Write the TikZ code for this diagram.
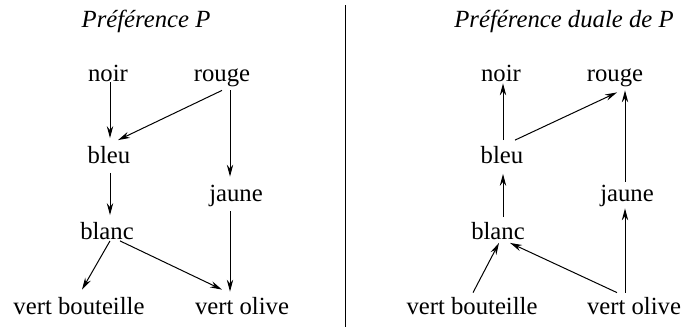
\documentclass[tikz,border=0pt]{standalone}
\usepackage{fontspec}
\setmainfont{Liberation Serif}
\usetikzlibrary{arrows.meta}

\begin{document}
\begin{tikzpicture}[x=0.5pt,y=-0.5pt,
        mot/.style={font=\fontsize{12.35pt}{14pt}\selectfont, inner sep=0pt,
            text height=8.5pt, text depth=2.5pt, anchor=base},
        titre/.style={mot, font=\fontsize{12.35pt}{14pt}\selectfont\itshape},
        fleche/.style={-{Stealth[length=6pt,width=3.2pt,inset=2pt]}, line width=0.5pt}]
        \useasboundingbox (0,0) rectangle (683,327);

        % preference P
        \node[titre] (titreP) at (146,27.5) {Préférence P};
        \node[mot] (noirP)   at (108,81.7) {noir};
        \node[mot] (rougeP)  at (222,81.7) {rouge};
        \node[mot] (bleuP)   at (109,163.5) {bleu};
        \node[mot] (jauneP)  at (236,201.7) {jaune};
        \node[mot] (blancP)  at (107,239.5) {blanc};
        \node[mot] (vbP)     at (79,314)   {vert bouteille};
        \node[mot] (voP)     at (242,314)  {vert olive};

        \draw[fleche] ([shift={(2,-4.7)}]noirP.south) -- ([shift={(1,-8)}]bleuP.north);
        \draw[fleche] ([shift={(0,3.3)}]rougeP.south) -- ([shift={(9,-6)}]bleuP.north);
        \draw[fleche] ([shift={(8,3.3)}]rougeP.south) -- ([shift={(-6,-7.7)}]jauneP.north);
        \draw[fleche] ([shift={(1,4)}]bleuP.south) -- ([shift={(3,-7)}]blancP.north);
        \draw[fleche] ([shift={(3,-4)}]blancP.south) -- ([shift={(3,-7)}]vbP.north);
        \draw[fleche] ([shift={(13,-4)}]blancP.south) -- ([shift={(-20,-7)}]voP.north);
        \draw[fleche] ([shift={(-6,4)}]jauneP.south) -- ([shift={(-12,-5)}]voP.north);

        % separation
        \draw[line width=0.5pt] (345,5) -- (345,327);

        % preference duale
        \node[titre] (titreD) at (564,27.3) {Préférence duale de P};
        \node[mot] (noirD)   at (501,81.7) {noir};
        \node[mot] (rougeD)  at (615,81.7) {rouge};
        \node[mot] (bleuD)   at (502,163.5) {bleu};
        \node[mot] (jauneD)  at (627,201.7) {jaune};
        \node[mot] (blancD)  at (498,239.5) {blanc};
        \node[mot] (vbD)     at (472,314)  {vert bouteille};
        \node[mot] (voD)     at (634,314)  {vert olive};

        \draw[fleche] ([shift={(1,-6)}]bleuD.north) -- ([shift={(2,-3.7)}]noirD.south);
        \draw[fleche] ([shift={(13,-6)}]bleuD.north) -- ([shift={(2,5.3)}]rougeD.south);
        \draw[fleche] ([shift={(-2,-2.7)}]jauneD.north) -- ([shift={(10,3.3)}]rougeD.south);
        \draw[fleche] ([shift={(5,-5)}]blancD.north) -- ([shift={(1,5)}]bleuD.south);
        \draw[fleche] ([shift={(1,-4)}]vbD.north) -- ([shift={(1,-2)}]blancD.south);
        \draw[fleche] ([shift={(-17,-4)}]voD.north) -- ([shift={(12,-2)}]blancD.south);
        \draw[fleche] ([shift={(-9,-4)}]voD.north) -- ([shift={(-2,1.3)}]jauneD.south);
    \end{tikzpicture}
\end{document}
